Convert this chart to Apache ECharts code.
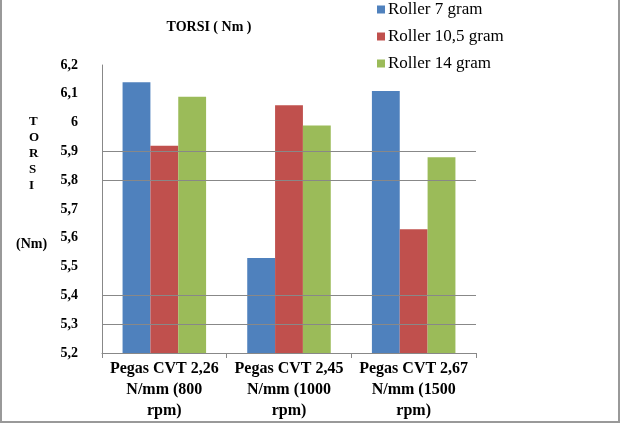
<!DOCTYPE html>
<html>
<head>
<meta charset="utf-8">
<script src="https://cdn.jsdelivr.net/npm/echarts@6/dist/echarts.min.js"></script>
<style>html,body{margin:0;padding:0;background:#fff;}#c{width:627px;height:439px;}</style>
</head>
<body>
<div id="c"></div>
<script>
var categories = ['Pegas CVT 2,26\nN/mm (800\nrpm)', 'Pegas CVT 2,45\nN/mm (1000\nrpm)', 'Pegas CVT 2,67\nN/mm (1500\nrpm)'];
var seriesNames = ['Roller 7 gram', 'Roller 10,5 gram', 'Roller 14 gram'];
var roller7 = [6.14, 5.53, 6.11];
var roller105 = [5.92, 6.06, 5.63];
var roller14 = [6.09, 5.99, 5.88];
var yMin = 5.2, yMax = 6.2, yStep = 0.1;
var visibleGridValues = [5.3, 5.4, 5.8, 5.9];
var colors = ['#4F81BD', '#C0504D', '#9BBB59'];

var chart = echarts.init(document.getElementById('c'), null, {renderer: 'canvas'});
var serif = 'Liberation Serif';
function mk(name, data, i) {
  return {name: name, type: 'bar', data: data, barGap: '0%', barCategoryGap: '33%', z: 2,
    itemStyle: {color: colors[i]}, animation: false};
}
chart.setOption({
  animation: false,
  title: {text: 'TORSI ( Nm )', left: 204, top: 15, textAlign: 'center',
    textStyle: {fontFamily: serif, fontSize: 14, fontWeight: 'bold', color: '#000'}},
  legend: {orient: 'vertical', left: 372, top: -4, itemWidth: 8, itemHeight: 8, itemGap: 10, icon: 'rect',
    data: seriesNames,
    textStyle: {fontFamily: serif, fontSize: 17, color: '#000', padding: [0,0,0,-2]}},
  grid: {left: 102, right: 151, top: 65, bottom: 86, containLabel: false},
  xAxis: {type: 'category', data: categories,
    axisLine: {lineStyle: {color: '#888', width: 1}},
    axisTick: {show: true, length: 5, inside: false, lineStyle: {color: '#888'}},
    axisLabel: {interval: 0, fontFamily: serif, fontSize: 16, fontWeight: 'bold', color: '#000', lineHeight: 21, margin: 5}},
  yAxis: {type: 'value', min: yMin, max: yMax, interval: yStep,
    axisLine: {show: true, lineStyle: {color: '#888'}},
    axisTick: {show: false},
    splitLine: {show: false},
    axisLabel: {fontFamily: serif, fontSize: 14, fontWeight: 'bold', color: '#000', margin: 24,
      formatter: function(v){ return (Math.round(v*10)/10).toString().replace('.', ','); }}},
  series: [
    mk(seriesNames[0], roller7, 0), mk(seriesNames[1], roller105, 1), mk(seriesNames[2], roller14, 2),
    {type: 'line', data: [], z: 1, silent: true,
      markLine: {silent: true, symbol: ['none','none'], label: {show: false},
        lineStyle: {color: '#888', type: 'solid', width: 1},
        data: visibleGridValues.map(function(v){ return {yAxis: v}; })}}
  ],
  graphic: [
    {type: 'rect', shape: {x: 1, y: -5, width: 618, height: 427}, style: {fill: 'none', stroke: '#999', lineWidth: 2}, silent: true},
    {type: 'text', left: 29, top: 114, style: {text: 'T\nO\nR\nS\nI', fontFamily: serif, fontSize: 13, fontWeight: 'bold', fill: '#000', lineHeight: 16, align: 'center'}},
    {type: 'text', left: 16, top: 237, style: {text: '(Nm)', fontFamily: serif, fontSize: 14, fontWeight: 'bold', fill: '#000'}}
  ]
});
</script>
</body>
</html>
